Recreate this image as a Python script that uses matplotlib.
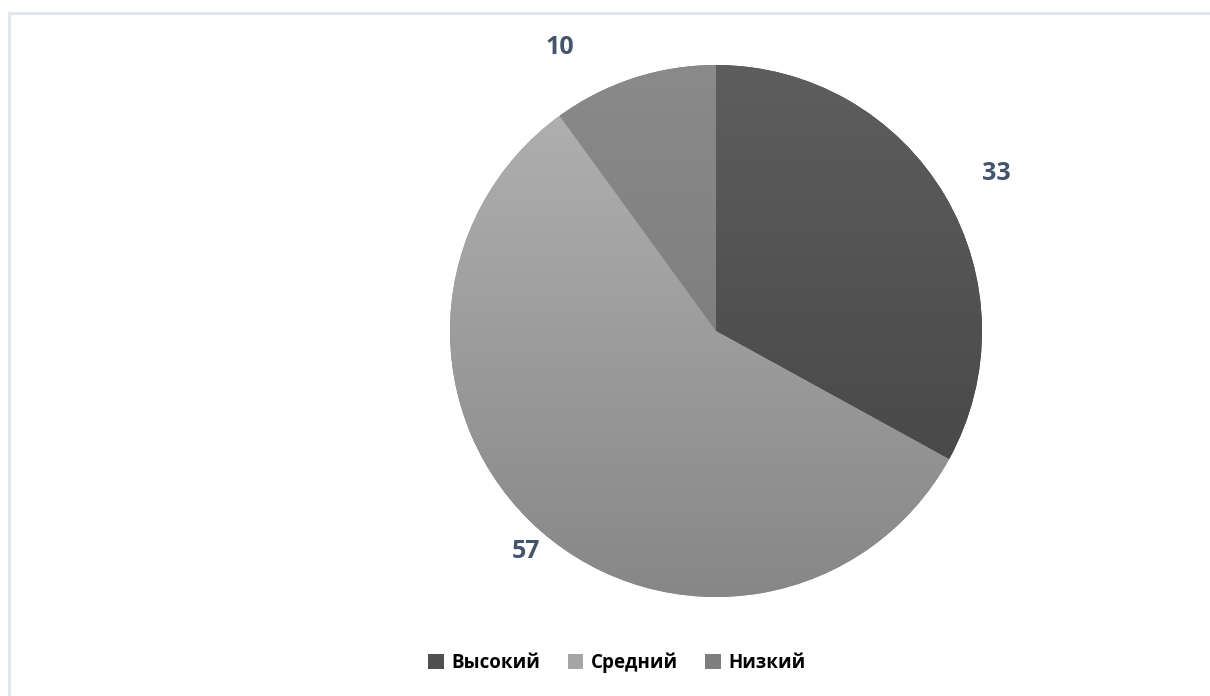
import numpy as np
import matplotlib
matplotlib.use('Agg')
import matplotlib.pyplot as plt
from matplotlib.patches import Patch, Rectangle

# Levels and their shares
categories = ['Высокий', 'Средний', 'Низкий']
values = [33, 57, 10]

# Gradient (top, bottom) per slice, plus a flat colour for the legend keys
gradients = [('#5e5e5e', '#424242'), ('#b3b3b3', '#878787'), ('#8a8a8a', '#747474')]
legend_colors = ['#505050', '#a6a6a6', '#7f7f7f']
label_color = '#44546a'

W, H = 1210, 696
fig = plt.figure(figsize=(W / 100, H / 100), dpi=100)
fig.patch.set_facecolor('white')
ax = fig.add_axes([0, 0, 1, 1])
ax.set_xlim(0, W)
ax.set_ylim(0, H)
ax.set_aspect('equal')
ax.axis('off')

# light frame of the chart area
ax.add_patch(Rectangle((9, -20), W + 40, H - 13 + 20, fill=False,
                       edgecolor='#e1e5ec', linewidth=2))

cx, cy, r = 716, H - 331, 266
wedges, _ = ax.pie(values, startangle=90, counterclock=False, radius=r,
                   center=(cx, cy), colors=[g[1] for g in gradients],
                   wedgeprops=dict(linewidth=0))
ax.set_xlim(0, W)
ax.set_ylim(0, H)

# fill each wedge with a vertical gradient clipped to its outline
for w, (top, bot) in zip(wedges, gradients):
    c1 = np.array(matplotlib.colors.to_rgb(top))
    c2 = np.array(matplotlib.colors.to_rgb(bot))
    t = np.linspace(0, 1, 256)[:, None]
    img = (c1 * (1 - t) + c2 * t)[:, None, :]
    im = ax.imshow(img, extent=(cx - r, cx + r, cy - r, cy + r),
                   origin='upper', aspect='auto', zorder=2,
                   interpolation='bilinear')
    im.set_clip_path(w)

# value labels
label_pos = [(996, H - 174), (526, H - 551), (560, H - 47)]
for v, (x, y) in zip(values, label_pos):
    ax.text(x, y, str(v), ha='center', va='center', fontsize=18,
            fontweight='bold', family='Open Sans', color=label_color, zorder=5)

handles = [Patch(facecolor=c, edgecolor='none') for c in legend_colors]
leg = ax.legend(handles, categories, loc='center', bbox_to_anchor=(617 / W, 1 - 663 / H),
                ncol=3, frameon=False, handlelength=0.85, handleheight=0.85,
                handletextpad=0.4, columnspacing=1.45,
                prop=dict(family='Open Sans', weight='bold', size=13.5))

fig.savefig('out.png', dpi=100, facecolor='white')
